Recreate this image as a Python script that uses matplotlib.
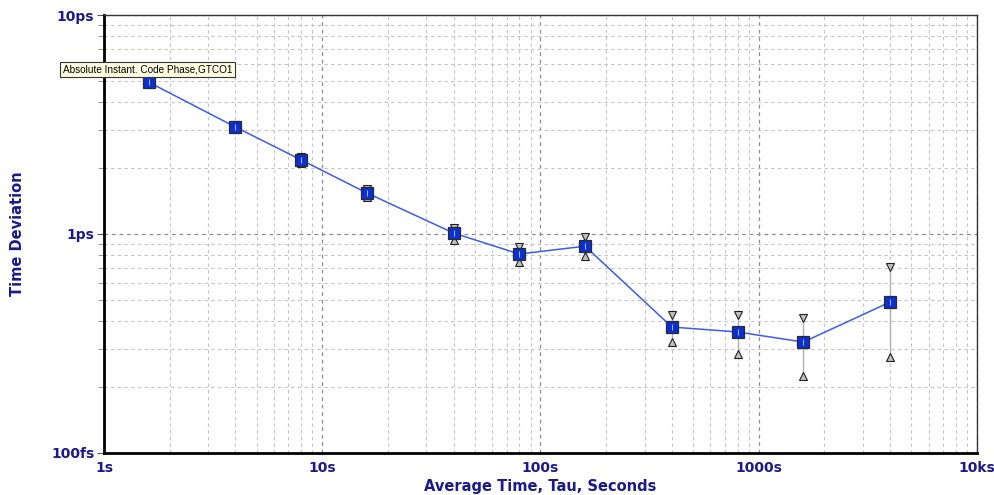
import matplotlib
matplotlib.use("Agg")
import matplotlib.pyplot as plt
from matplotlib.ticker import LogLocator, FixedLocator, NullFormatter
import numpy as np

# Data (tau in seconds, TDEV in ps)
tau = [1.6, 4, 8, 16, 40, 80, 160, 400, 800, 1600, 4000]
tdev = [4.94, 3.08, 2.18, 1.54, 1.01, 0.81, 0.88, 0.376, 0.357, 0.321, 0.489]
err_hi = [5.05, 3.15, 2.25, 1.60, 1.065, 0.872, 0.969, 0.427, 0.427, 0.413, 0.707]
err_lo = [4.84, 3.02, 2.11, 1.48, 0.939, 0.745, 0.793, 0.321, 0.283, 0.225, 0.274]

x_ticks = [1, 10, 100, 1000, 10000]
x_labels = ["1s", "10s", "100s", "1000s", "10ks"]
y_ticks = [0.1, 1, 10]
y_labels = ["100fs", "1ps", "10ps"]
series_name = "Absolute Instant. Code Phase,GTCO1"

navy = "#1a1a8a"

fig = plt.figure(figsize=(9.95, 4.95), dpi=100)
ax = fig.add_axes([104/995, 1-453/495, (977-104)/995, (453-15)/495])
ax.set_xscale("log")
ax.set_yscale("log")
ax.set_xlim(1, 10000)
ax.set_ylim(0.1, 10)

# grid
ax.xaxis.set_major_locator(FixedLocator(x_ticks))
ax.yaxis.set_major_locator(FixedLocator(y_ticks))
ax.xaxis.set_minor_locator(LogLocator(base=10, subs=np.arange(2, 10)))
ax.yaxis.set_minor_locator(LogLocator(base=10, subs=np.arange(2, 10)))
ax.xaxis.set_minor_formatter(NullFormatter())
ax.yaxis.set_minor_formatter(NullFormatter())
ax.grid(which="major", color="#8c8c8c", linestyle=(0, (3, 3)), linewidth=0.9)
ax.grid(which="minor", color="#c4c4c4", linestyle=(0, (3, 3)), linewidth=0.8)
ax.set_axisbelow(True)

ax.set_xticklabels(x_labels, fontsize=10, fontweight="bold", color=navy)
ax.set_yticklabels(y_labels, fontsize=10, fontweight="bold", color=navy)
ax.tick_params(axis="x", which="both", length=0, pad=6)
ax.tick_params(axis="y", which="major", length=5, color="#555555", pad=2, direction="out")
ax.tick_params(axis="y", which="minor", length=4, color="#888888", direction="out")

for s in ["left", "bottom"]:
    ax.spines[s].set_linewidth(2)
    ax.spines[s].set_color("black")
for s in ["top", "right"]:
    ax.spines[s].set_linewidth(1)
    ax.spines[s].set_color("#333333")

# error bars
for t, lo, hi in zip(tau, err_lo, err_hi):
    ax.plot([t, t], [lo, hi], color="#b0b0b0", linewidth=1, zorder=2)
ax.plot(tau, err_hi, linestyle="none", marker="v", markersize=5.5,
        markerfacecolor="#c0c0c0", markeredgecolor="#202020", markeredgewidth=0.8, zorder=3)
ax.plot(tau, err_lo, linestyle="none", marker="^", markersize=5.5,
        markerfacecolor="#c0c0c0", markeredgecolor="#202020", markeredgewidth=0.8, zorder=3)

# main line & markers
ax.plot(tau, tdev, color="#3a5cf0", linewidth=1.1, zorder=4)
ax.plot(tau, tdev, linestyle="none", marker="s", markersize=8.5,
        markerfacecolor="#0b2fd0", markeredgecolor="#2a2a2a", markeredgewidth=0.9, zorder=5)
ax.plot(tau, tdev, linestyle="none", marker="|", markersize=5,
        markeredgecolor="#a0b0ff", markeredgewidth=0.8, zorder=6)

ax.set_xlabel("Average Time, Tau, Seconds", fontsize=10.5, fontweight="bold", color=navy, labelpad=3)
fig.text(18/995, 1-234/495, "Time Deviation", rotation=90, fontsize=10.5, fontweight="bold",
         color=navy, ha="center", va="center")

# series annotation box
fig.text(63/995, 1-69/495, series_name, fontsize=7.2, family="Liberation Sans",
         ha="left", va="center", color="black",
         bbox=dict(boxstyle="square,pad=0.25", facecolor="#ffffe1", edgecolor="#333333", linewidth=0.8))

fig.savefig("out.png", dpi=100)
